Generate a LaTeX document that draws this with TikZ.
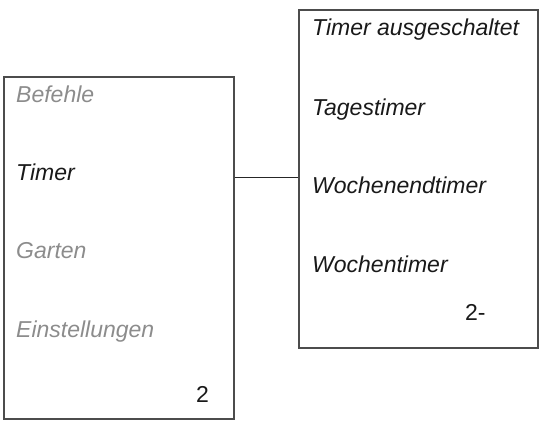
\documentclass[tikz,border=0pt]{standalone}
\usepackage{fontspec}
\setmainfont{Liberation Sans}
\begin{document}
\begin{tikzpicture}[x=1pt,y=-1pt,
        menubox/.style={draw=black!70, line width=1.2pt, inner sep=0pt},
        entry/.style={anchor=base west, inner sep=0pt, font=\fontsize{23}{27}\selectfont\itshape, text=black!90},
        dimentry/.style={entry, text=black!45},
        pagenum/.style={anchor=base west, inner sep=0pt, font=\fontsize{23}{27}\selectfont, text=black!90}]
    \useasboundingbox (0,0) rectangle (543,423);

    % Main menu
    \node[menubox, minimum width=230pt, minimum height=342pt] (menu) at (119,248) {};
    \node[dimentry] (befehle) at (16,102) {Befehle};
    \node[entry] (timer) at (16,180) {Timer};
    \node[dimentry] (garten) at (16,258) {Garten};
    \node[dimentry] (einst) at (16,337) {Einstellungen};
    \node[pagenum] (page) at (196,402) {2};

    % Timer submenu
    \node[menubox, minimum width=239pt, minimum height=338pt] (submenu) at (418.5,179) {};
    \node[entry] (aus) at (312,35) {Timer ausgeschaltet};
    \node[entry] (tag) at (312,115) {Tagestimer};
    \node[entry] (wochenende) at (312,193) {Wochenendtimer};
    \node[entry] (woche) at (312,272) {Wochentimer};
    \node[pagenum] (subpage) at (465,320) {2-};

    % Connector
    \coordinate (link) at (0,177);
    \draw[black!85, line width=1pt] (menu.east |- link) -- (submenu.west |- link);
\end{tikzpicture}
\end{document}
